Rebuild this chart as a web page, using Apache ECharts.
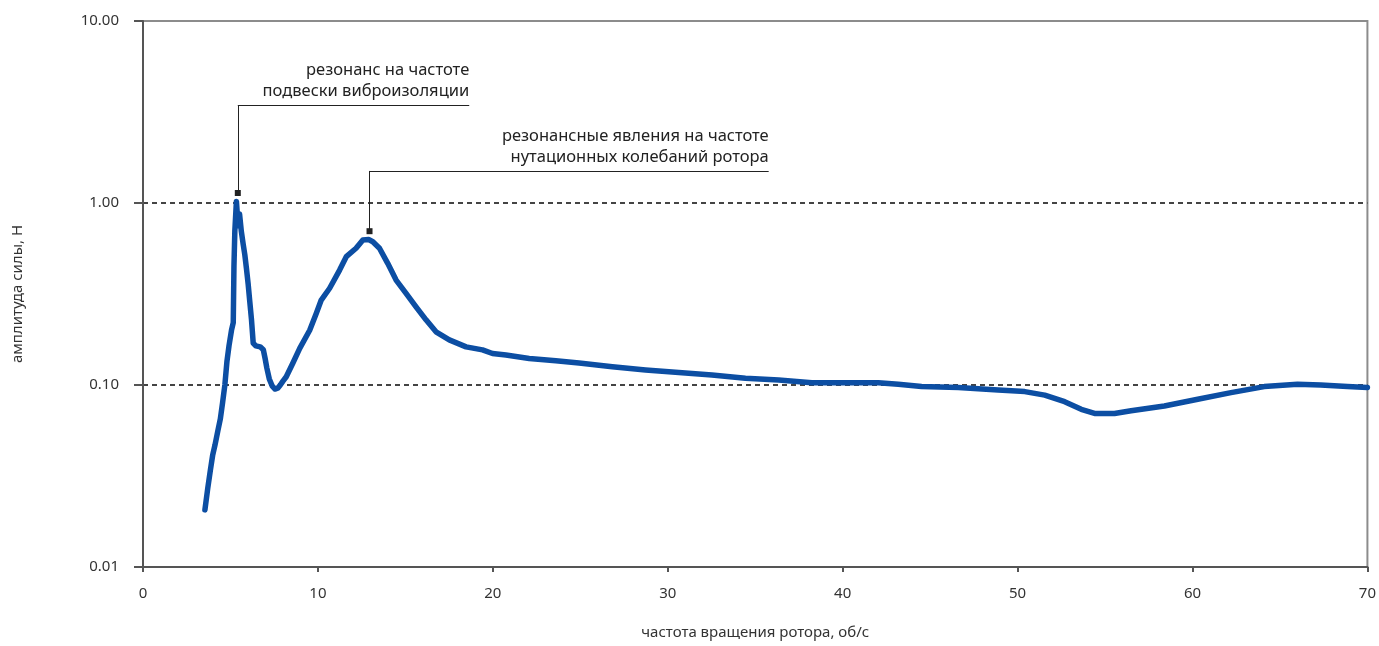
<!DOCTYPE html>
<html>
<head>
<meta charset="utf-8">
<title>Амплитуда силы</title>
<script src="https://cdn.jsdelivr.net/npm/echarts@6/dist/echarts.min.js"></script>
<style>
  html, body { margin: 0; padding: 0; background: #fff; }
  #chart { width: 1379px; height: 646px; }
</style>
</head>
<body>
<div id="chart"></div>
<script>
// Rotor speed, rev/s
const freq = [
  3.54, 3.70, 3.85, 3.98, 4.12, 4.28, 4.42, 4.55, 4.68, 4.80, 4.92, 5.06, 5.16, 5.20,
  5.25, 5.34, 5.44, 5.52, 5.62, 5.72, 5.82, 5.91, 6.01, 6.10, 6.20, 6.30, 6.45, 6.70,
  6.88, 6.98, 7.08, 7.22, 7.38, 7.55, 7.70, 7.85, 8.00, 8.19, 8.57, 8.96, 9.53, 9.91,
  10.19, 10.67, 11.24, 11.62, 12.18, 12.57, 12.90, 13.14, 13.52, 13.99, 14.47, 15.04,
  15.61, 16.18, 16.75, 17.51, 18.47, 19.41, 19.98, 20.75, 22.08, 23.60, 24.93, 26.83,
  28.73, 30.63, 32.53, 34.44, 36.34, 38.24, 40.00, 42.04, 43.18, 44.51, 46.61, 48.89,
  50.41, 51.55, 52.69, 53.64, 54.40, 55.54, 56.49, 58.39, 60.30, 62.20, 64.10, 66.00,
  67.33, 68.86, 70.00
];
// Force amplitude, N
const amp = [
  0.0206, 0.027, 0.034, 0.041, 0.047, 0.056, 0.065, 0.080, 0.100, 0.135, 0.165, 0.200, 0.220, 0.450,
  0.700, 1.020, 0.750, 0.870, 0.700, 0.600, 0.520, 0.440, 0.360, 0.290, 0.230, 0.170, 0.164, 0.162,
  0.156, 0.140, 0.124, 0.108, 0.099, 0.095, 0.096, 0.100, 0.105, 0.111, 0.132, 0.159, 0.200, 0.248,
  0.293, 0.340, 0.428, 0.507, 0.564, 0.626, 0.630, 0.613, 0.564, 0.466, 0.377, 0.319,
  0.269, 0.228, 0.196, 0.177, 0.162, 0.156, 0.149, 0.146, 0.140, 0.136, 0.132, 0.126,
  0.121, 0.117, 0.1135, 0.1088, 0.1065, 0.103, 0.103, 0.103, 0.101, 0.098, 0.097, 0.094,
  0.092, 0.088, 0.081, 0.0735, 0.0698, 0.0698, 0.0722, 0.0767, 0.0835, 0.0908, 0.098, 0.101,
  0.100, 0.098, 0.097
];

const xTicks = [0, 10, 20, 30, 40, 50, 60, 70];
const yTicks = [0.01, 0.1, 1, 10];

// Callout texts and the data points they point to
const calloutTexts = [
  'резонанс на частоте\nподвески виброизоляции',
  'резонансные явления на частоте\nнутационных колебаний ротора'
];
const calloutAnchors = [[5.42, 1.135], [12.95, 0.70]];
const calloutElbows = [[18.65, 3.45], [35.77, 1.50]];

const FONT = '"Noto Sans", "Open Sans", sans-serif';
const AXIS_COLOR = '#555';

const chart = echarts.init(document.getElementById('chart'), null, { renderer: 'canvas' });

const points = freq.map((f, i) => [f, amp[i]]);

chart.setOption({
  animation: false,
  textStyle: { fontFamily: FONT },
  grid: {
    left: 143, right: 9, top: 21, bottom: 79,
    show: true, borderColor: '#8c8c8c', borderWidth: 2
  },
  xAxis: {
    type: 'value',
    min: xTicks[0], max: xTicks[xTicks.length - 1], interval: 10,
    name: 'частота вращения ротора, об/с',
    nameLocation: 'middle', nameGap: 58,
    nameTextStyle: { fontSize: 15, color: '#333', fontFamily: FONT },
    axisLine: { lineStyle: { color: AXIS_COLOR, width: 2 } },
    axisTick: { length: 5, lineStyle: { color: AXIS_COLOR, width: 2 } },
    axisLabel: { margin: 19, fontSize: 15, color: '#333', fontFamily: FONT },
    splitLine: { show: false }
  },
  yAxis: {
    type: 'log', logBase: 10,
    min: yTicks[0], max: yTicks[yTicks.length - 1],
    name: 'амплитуда силы, Н',
    nameLocation: 'middle', nameGap: 118,
    nameTextStyle: { fontSize: 15, color: '#333', fontFamily: FONT },
    axisLine: { show: true, lineStyle: { color: AXIS_COLOR, width: 2 } },
    axisTick: { show: true, length: 9, lineStyle: { color: AXIS_COLOR, width: 2 } },
    axisLabel: {
      margin: 24, fontSize: 15, color: '#333', fontFamily: FONT,
      formatter: v => Number(v).toFixed(2)
    },
    splitLine: {
      show: true, showMinLine: false, showMaxLine: false,
      lineStyle: { color: '#444', width: 2, type: [5, 4] }
    }
  },
  series: [{
    type: 'line',
    data: points,
    showSymbol: false,
    smooth: false,
    lineStyle: { color: '#0c4ea3', width: 5.5, join: 'round', cap: 'round' },
    z: 3,
    markLine: {
      silent: true, symbol: ['none', 'none'],
      label: { show: false },
      lineStyle: { color: '#222', width: 1, type: 'solid' },
      data: calloutAnchors.flatMap((a, i) => [
        [{ coord: a }, { coord: [a[0], calloutElbows[i][1]] }],
        [{ coord: [a[0], calloutElbows[i][1]] }, { coord: calloutElbows[i] }]
      ])
    },
    markPoint: {
      silent: true, symbol: 'rect', symbolSize: 6,
      itemStyle: { color: '#222' },
      label: { show: false },
      data: calloutAnchors.map(a => ({ coord: a }))
    }
  }]
});

// Callout texts sit right-aligned above the horizontal leader lines
function placeCallouts() {
  const els = calloutTexts.map((t, i) => {
    const p = chart.convertToPixel({ seriesIndex: 0 }, calloutElbows[i]);
    return {
      type: 'text',
      x: p[0], y: p[1] - 3,
      style: {
        text: t,
        align: 'right', verticalAlign: 'bottom',
        font: '16.5px ' + FONT, fill: '#222', lineHeight: 21
      }
    };
  });
  chart.setOption({ graphic: els });
}
placeCallouts();
</script>
</body>
</html>
